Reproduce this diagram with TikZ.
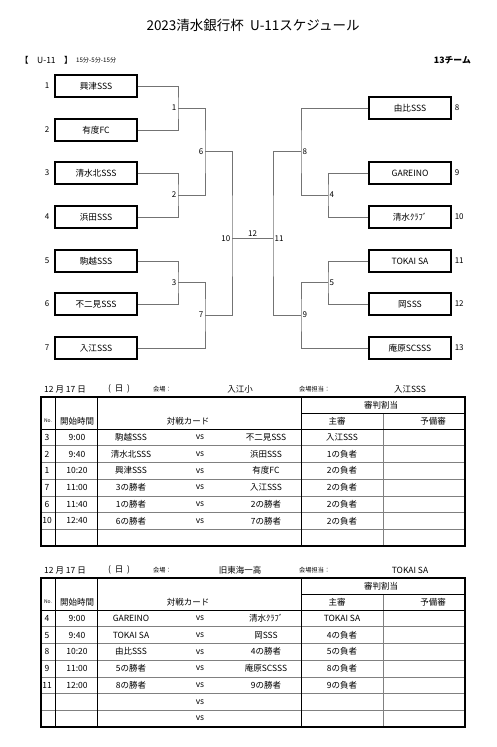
\documentclass[tikz,border=0pt]{standalone}
\usepackage{fontspec}
\setmainfont{Noto Sans CJK JP}
\usetikzlibrary{positioning}

\begin{document}
\begin{tikzpicture}[x=1pt,y=-1pt,
  team/.style={draw=black,line width=1.1pt,minimum width=82pt,minimum height=22pt,inner sep=0pt,font=\fontsize{8.6}{10}\selectfont},
  seed/.style={font=\fontsize{8}{9}\selectfont,inner sep=1pt},
  wire/.style={draw=black!55,line width=0.8pt},
  mno/.style={font=\fontsize{8}{9}\selectfont,inner sep=1.5pt},
  cell/.style={font=\fontsize{8.5}{10}\selectfont,inner sep=0pt},
  small/.style={font=\fontsize{6.2}{7}\selectfont,inner sep=0pt},
  grid/.style={draw=black,line width=0.6pt},
  soft/.style={draw=black!50,line width=0.6pt}]
\useasboundingbox (0,0) rectangle (497,747);

% title
\node[font=\fontsize{13.5}{15}\selectfont] (title) at (253,25) {2023清水銀行杯\ \ U-11スケジュール};
\node[cell,anchor=west] (cat) at (20,60) {【\quad U-11\quad 】};
\node[small,anchor=west,right=3pt of cat] (rule) {15分-5分-15分};
\node[cell,anchor=east,font=\fontsize{8.8}{10}\selectfont\bfseries] (count) at (471,60) {13チーム};

% left side teams
\node[team] (t1) at (96,86) {興津SSS};
\node[team] (t2) at (96,130) {有度FC};
\node[team] (t3) at (96,173) {清水北SSS};
\node[team] (t4) at (96,217) {浜田SSS};
\node[team] (t5) at (96,261) {駒越SSS};
\node[team] (t6) at (96,304) {不二見SSS};
\node[team] (t7) at (96,348) {入江SSS};
\node[seed,left=4pt of t1] (s1) {1};
\node[seed,left=4pt of t2] (s2) {2};
\node[seed,left=4pt of t3] (s3) {3};
\node[seed,left=4pt of t4] (s4) {4};
\node[seed,left=4pt of t5] (s5) {5};
\node[seed,left=4pt of t6] (s6) {6};
\node[seed,left=4pt of t7] (s7) {7};

% right side teams
\node[team] (r8) at (410,108) {由比SSS};
\node[team] (r9) at (410,173) {GAREINO};
\node[team] (r10) at (410,217) {清水ｸﾗﾌﾞ};
\node[team] (r11) at (410,261) {TOKAI SA};
\node[team] (r12) at (410,304) {岡SSS};
\node[team] (r13) at (410,348) {庵原SCSSS};
\node[seed,right=2pt of r8] (s8) {8};
\node[seed,right=2pt of r9] (s9) {9};
\node[seed,right=2pt of r10] (s10) {10};
\node[seed,right=2pt of r11] (s11) {11};
\node[seed,right=2pt of r12] (s12) {12};
\node[seed,right=2pt of r13] (s13) {13};

% junctions
\coordinate (m1) at (178,108);
\coordinate (m2) at (178,195);
\coordinate (m3) at (178,282.5);
\coordinate (m6) at (205,151.5);
\coordinate (m7) at (205,315);
\coordinate (m10) at (232,238.5);
\coordinate (m11) at (273,238.5);
\coordinate (m8) at (301,151.5);
\coordinate (m9) at (301,315);
\coordinate (m4) at (328,195);
\coordinate (m5) at (328,282.5);

% bracket
\draw[wire] (t1.east) -| (m1) |- (t2.east);
\draw[wire] (t3.east) -| (m2) |- (t4.east);
\draw[wire] (t5.east) -| (m3) |- (t6.east);
\draw[wire] (m1) -| (m6) |- (m2);
\draw[wire] (t7.east) -| (m7) |- (m3);
\draw[wire] (m6) -| (m10) |- (m7);
\draw[wire] (r9.west) -| (m4) |- (r10.west);
\draw[wire] (r11.west) -| (m5) |- (r12.west);
\draw[wire] (r8.west) -| (m8) |- (m4);
\draw[wire] (r13.west) -| (m9) |- (m5);
\draw[wire] (m8) -| (m11) |- (m9);
\draw[wire] (m10) -- node[mno,above] (g12) {12} (m11);

\node[mno,left] (g1) at (m1) {1};
\node[mno,left] (g2) at (m2) {2};
\node[mno,left] (g3) at (m3) {3};
\node[mno,left] (g6) at (m6) {6};
\node[mno,left] (g7) at (m7) {7};
\node[mno,left] (g10) at (m10) {10};
\node[mno,right] (g11) at (m11) {11};
\node[mno,right] (g8) at (m8) {8};
\node[mno,right] (g9) at (m9) {9};
\node[mno,right] (g4) at (m4) {4};
\node[mno,right] (g5) at (m5) {5};

% table grids
\foreach \T in {397,578} {
  \foreach \k in {1,...,6}
    \draw[soft] (41,{\T+32+16.7*\k}) -- (465,{\T+32+16.7*\k});
  \draw[grid] (55,\T) -- (55,\T+149);
  \draw[grid] (97,\T) -- (97,\T+149);
  \draw[grid] (301,\T) -- (301,\T+149);
  \draw[soft,line width=1pt] (383,\T+16) -- (383,\T+149);
  \draw[grid] (301,\T+16) -- (465,\T+16);
  \draw[grid,line width=1pt] (41,\T+32) -- (465,\T+32);
  \draw[draw=black,line width=1.3pt] (41,\T) rectangle (465,\T+149);
  \node[small,font=\fontsize{5}{6}\selectfont] at (48,\T+24) {No.};
  \node[cell] at (77,\T+24) {開始時間};
  \node[cell] at (188,\T+24) {対戦カード};
  \node[cell] at (381,\T+8) {審判割当};
  \node[cell] at (337,\T+24) {主審};
  \node[cell] at (433,\T+24) {予備審};
}

% 12/17 venue one
\node[cell,anchor=west] (d1) at (44,389) {12\ 月\ 17\ 日};
\node[cell,anchor=west] (w1) at (108,389) {(\ \ 日\ \ )};
\node[small,anchor=west] (v1) at (153,389) {会場：};
\node[cell] (p1) at (240,389) {入江小};
\node[small,anchor=west] (h1) at (299,389) {会場担当：};
\node[cell] (o1) at (410,389) {入江SSS};
\foreach \no/\tm/\ta/\tb/\rf [count=\k] in {3/9:00/駒越SSS/不二見SSS/入江SSS,
    2/9:40/清水北SSS/浜田SSS/1の負者, 1/10:20/興津SSS/有度FC/2の負者,
    7/11:00/3の勝者/入江SSS/2の負者, 6/11:40/1の勝者/2の勝者/2の負者,
    10/12:40/6の勝者/7の勝者/2の負者} {
  \node[cell] (a\k no) at (47,{437.35+16.7*(\k-1)}) {\no};
  \node[cell] (a\k tm) at (77,{437.35+16.7*(\k-1)}) {\tm};
  \node[cell] (a\k ta) at (131,{437.35+16.7*(\k-1)}) {\ta};
  \node[cell] (a\k vs) at (200,{437.35+16.7*(\k-1)}) {vs};
  \node[cell] (a\k tb) at (266,{437.35+16.7*(\k-1)}) {\tb};
  \node[cell] (a\k rf) at (342,{437.35+16.7*(\k-1)}) {\rf};
}

% 12/17 venue two
\node[cell,anchor=west] (d2) at (44,570) {12\ 月\ 17\ 日};
\node[cell,anchor=west] (w2) at (108,570) {(\ \ 日\ \ )};
\node[small,anchor=west] (v2) at (153,570) {会場：};
\node[cell] (p2) at (240,570) {旧東海一高};
\node[small,anchor=west] (h2) at (299,570) {会場担当：};
\node[cell] (o2) at (410,570) {TOKAI SA};
\foreach \no/\tm/\ta/\tb/\rf [count=\k] in {4/9:00/GAREINO/清水ｸﾗﾌﾞ/TOKAI SA,
    5/9:40/TOKAI SA/岡SSS/4の負者, 8/10:20/由比SSS/4の勝者/5の負者,
    9/11:00/5の勝者/庵原SCSSS/8の負者, 11/12:00/8の勝者/9の勝者/9の負者} {
  \node[cell] (b\k no) at (47,{618.35+16.7*(\k-1)}) {\no};
  \node[cell] (b\k tm) at (77,{618.35+16.7*(\k-1)}) {\tm};
  \node[cell] (b\k ta) at (131,{618.35+16.7*(\k-1)}) {\ta};
  \node[cell] (b\k vs) at (200,{618.35+16.7*(\k-1)}) {vs};
  \node[cell] (b\k tb) at (266,{618.35+16.7*(\k-1)}) {\tb};
  \node[cell] (b\k rf) at (342,{618.35+16.7*(\k-1)}) {\rf};
}
\node[cell] (b6vs) at (200,701.85) {vs};
\node[cell] (b7vs) at (200,718.55) {vs};
\end{tikzpicture}
\end{document}
